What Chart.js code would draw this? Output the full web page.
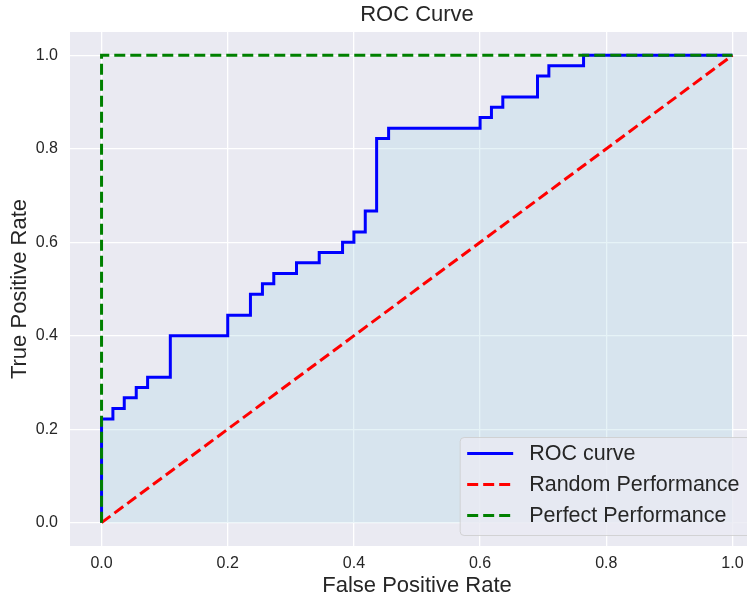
<!DOCTYPE html>
<html>
<head>
<meta charset="utf-8">
<title>ROC Curve</title>
<script src="https://cdn.jsdelivr.net/npm/chart.js@4.4.1/dist/chart.umd.min.js"></script>
<style>
    html, body { margin: 0; padding: 0; background: #fff; overflow: hidden; }
    #roc-chart { display: block; }
</style>
</head>
<body>
<canvas id="roc-chart" width="764" height="599"></canvas>
<script>
// ROC curve corner points
const fpr = [0.0, 0.0, 0.018, 0.018, 0.036, 0.036, 0.055, 0.055, 0.073, 0.073, 0.109, 0.109,
    0.2, 0.2, 0.236, 0.236, 0.255, 0.255, 0.273, 0.273, 0.309, 0.309, 0.345, 0.345,
    0.382, 0.382, 0.4, 0.4, 0.418, 0.418, 0.436, 0.436, 0.455, 0.455, 0.6, 0.6,
    0.618, 0.618, 0.636, 0.636, 0.691, 0.691, 0.709, 0.709, 0.764, 0.764, 1.0];
const tpr = [0.0, 0.222, 0.222, 0.244, 0.244, 0.267, 0.267, 0.289, 0.289, 0.311, 0.311, 0.4,
    0.4, 0.444, 0.444, 0.489, 0.489, 0.511, 0.511, 0.533, 0.533, 0.556, 0.556, 0.578,
    0.578, 0.6, 0.6, 0.622, 0.622, 0.667, 0.667, 0.822, 0.822, 0.844, 0.844, 0.867,
    0.867, 0.889, 0.889, 0.911, 0.911, 0.956, 0.956, 0.978, 0.978, 1.0, 1.0];

// Reference lines
const randomFpr = [0, 1];
const randomTpr = [0, 1];
const perfectFpr = [0, 0, 1];
const perfectTpr = [0, 1, 1];

// Axis ticks
const xTicks = [0.0, 0.2, 0.4, 0.6, 0.8, 1.0];
const yTicks = [0.0, 0.2, 0.4, 0.6, 0.8, 1.0];

const FONT = '"Liberation Sans", Arial, sans-serif';
const TEXT = '#262626';

const toPoints = (xs, ys) => xs.map((x, i) => ({ x: x, y: ys[i] }));

// Grey plot background behind the grid
const plotBackground = {
    id: 'plotBackground',
    beforeDraw(chart) {
        const { ctx, chartArea: a } = chart;
        ctx.save();
        ctx.fillStyle = '#EAEAF2';
        ctx.fillRect(a.left, a.top, a.right - a.left, a.bottom - a.top);
        ctx.restore();
    }
};

// Legend drawn in the lower right corner of the plot
const insideLegend = {
    id: 'insideLegend',
    afterDraw(chart) {
        const { ctx, chartArea: a } = chart;
        const sets = chart.data.datasets;
        const fontSize = 21.5;
        const padL = 7, padR = 14, lineLen = 46, gap = 16, rowH = 31, edge = 10.5;
        ctx.save();
        ctx.font = fontSize + 'px ' + FONT;
        const textW = Math.max(...sets.map(d => ctx.measureText(d.label).width));
        const w = padL + lineLen + gap + textW + padR;
        const h = 98;
        const x = a.right - edge - w;
        const y = a.bottom - edge - h;

        ctx.beginPath();
        ctx.roundRect(x, y, w, h, 4);
        ctx.fillStyle = 'rgba(234, 234, 242, 0.8)';
        ctx.fill();
        ctx.strokeStyle = 'rgba(204, 204, 204, 0.8)';
        ctx.lineWidth = 1;
        ctx.stroke();

        sets.forEach((d, i) => {
            const cy = y + 16 + i * rowH;
            ctx.beginPath();
            ctx.setLineDash(d.borderDash || []);
            ctx.strokeStyle = d.borderColor;
            ctx.lineWidth = 3;
            ctx.moveTo(x + padL, cy);
            ctx.lineTo(x + padL + lineLen, cy);
            ctx.stroke();
            ctx.setLineDash([]);
            ctx.fillStyle = TEXT;
            ctx.textBaseline = 'middle';
            ctx.textAlign = 'left';
            ctx.fillText(d.label, x + padL + lineLen + gap, cy + 1);
        });
        ctx.restore();
    }
};

function axisOptions(ticks, titleText, titlePadding, afterFit) {
    return {
        type: 'linear',
        min: -0.05,
        max: 1.05,
        afterBuildTicks: scale => {
            scale.ticks = ticks.map(v => ({ value: v }));
        },
        afterFit: afterFit,
        border: { display: false },
        grid: {
            color: '#FFFFFF',
            lineWidth: 1.3,
            drawTicks: false
        },
        ticks: {
            color: TEXT,
            font: { family: FONT, size: 16 },
            callback: v => Number(v).toFixed(1)
        },
        title: {
            display: true,
            text: titleText,
            color: TEXT,
            font: { family: FONT, size: 22 },
            padding: titlePadding
        }
    };
}

const xAxis = axisOptions(xTicks, 'False Positive Rate', { top: 0, bottom: 0 }, s => { s.height = 53; });
xAxis.ticks.padding = 8;
const yAxis = axisOptions(yTicks, 'True Positive Rate', { top: 7, bottom: 0 }, s => { s.width = 70; });
yAxis.ticks.padding = 12;

const ctx = document.getElementById('roc-chart').getContext('2d');
const rocChart = new Chart(ctx, {
    type: 'line',
    data: {
        datasets: [{
            label: 'ROC curve',
            data: toPoints(fpr, tpr),
            borderColor: '#0000FF',
            borderWidth: 3,
            pointRadius: 0,
            tension: 0,
            fill: 'origin',
            backgroundColor: 'rgba(173, 216, 230, 0.3)',
            order: 2
        }, {
            label: 'Random Performance',
            data: toPoints(randomFpr, randomTpr),
            borderColor: '#FF0000',
            borderDash: [11, 5],
            borderWidth: 3,
            pointRadius: 0,
            fill: false,
            order: 1
        }, {
            label: 'Perfect Performance',
            data: toPoints(perfectFpr, perfectTpr),
            borderColor: '#008000',
            borderDash: [11, 5],
            borderWidth: 3,
            pointRadius: 0,
            fill: false,
            order: 0
        }]
    },
    options: {
        responsive: false,
        animation: false,
        events: [],
        layout: { padding: 0 },
        scales: { x: xAxis, y: yAxis },
        plugins: {
            legend: { display: false },
            tooltip: { enabled: false },
            title: {
                display: true,
                text: 'ROC Curve',
                fullSize: false,
                color: TEXT,
                font: { family: FONT, size: 22, weight: 'normal' },
                padding: { top: 2, bottom: 3.6 }
            }
        }
    },
    plugins: [plotBackground, insideLegend]
});
</script>
</body>
</html>
